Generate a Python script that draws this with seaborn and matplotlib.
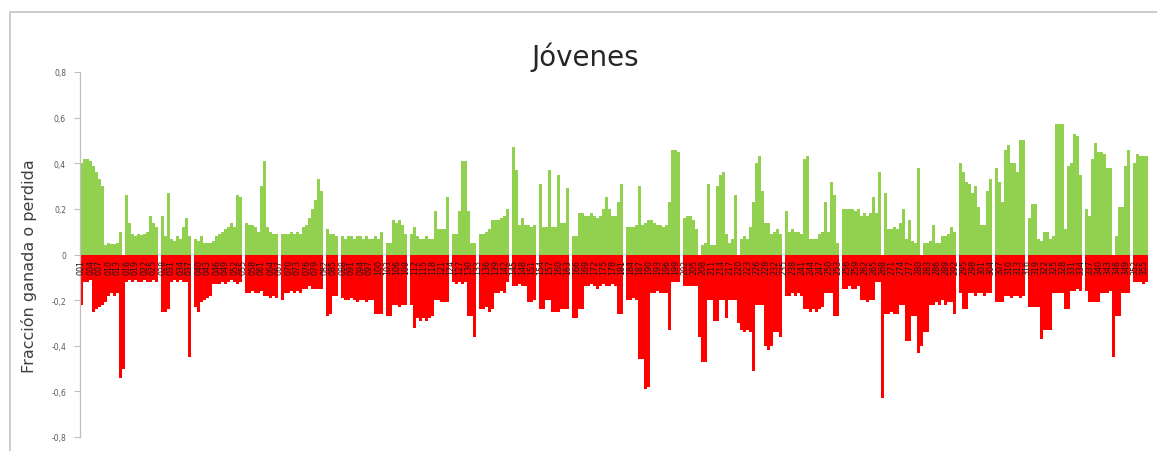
import matplotlib
matplotlib.use("Agg")
import matplotlib.pyplot as plt
from matplotlib.patches import Rectangle
from matplotlib.ticker import FuncFormatter
import seaborn as sns
import pandas as pd

# Fraction gained (positive) and lost (negative) per category
gains = [
    0.40, 0.42, 0.42, 0.41, 0.39, 0.36, 0.33, 0.30, 0.04, 0.05,
    0.045, 0.045, 0.05, 0.10, 0, 0.26, 0.14, 0.09, 0.08, 0.09,
    0.085, 0.09, 0.10, 0.17, 0.14, 0.12, 0, 0.17, 0.08, 0.27,
    0.07, 0.06, 0.08, 0.07, 0.12, 0.16, 0.08, 0, 0.07, 0.06,
    0.08, 0.05, 0.05, 0.05, 0.06, 0.08, 0.09, 0.10, 0.11, 0.12,
    0.14, 0.12, 0.26, 0.25, 0, 0.14, 0.13, 0.13, 0.12, 0.10,
    0.30, 0.41, 0.12, 0.10, 0.09, 0.09, 0, 0.09, 0.09, 0.09,
    0.10, 0.09, 0.10, 0.09, 0.12, 0.13, 0.16, 0.20, 0.24, 0.33,
    0.28, 0, 0.11, 0.09, 0.09, 0.08, 0, 0.08, 0.07, 0.08,
    0.08, 0.07, 0.08, 0.08, 0.07, 0.08, 0.07, 0.07, 0.08, 0.07,
    0.10, 0, 0.05, 0.05, 0.15, 0.14, 0.15, 0.13, 0.09, 0,
    0.09, 0.12, 0.08, 0.07, 0.07, 0.08, 0.07, 0.07, 0.19, 0.11,
    0.11, 0.11, 0.25, 0, 0.09, 0.09, 0.19, 0.41, 0.41, 0.19,
    0.05, 0.05, 0, 0.09, 0.09, 0.10, 0.11, 0.15, 0.15, 0.15,
    0.16, 0.17, 0.20, 0, 0.47, 0.37, 0.13, 0.16, 0.13, 0.13,
    0.12, 0.13, 0, 0.31, 0.12, 0.12, 0.37, 0.12, 0.12, 0.35,
    0.14, 0.14, 0.29, 0, 0.08, 0.08, 0.18, 0.18, 0.17, 0.17,
    0.18, 0.17, 0.16, 0.17, 0.20, 0.25, 0.20, 0.17, 0.17, 0.23,
    0.31, 0, 0.12, 0.12, 0.12, 0.13, 0.30, 0.13, 0.14, 0.15,
    0.15, 0.14, 0.13, 0.13, 0.12, 0.13, 0.23, 0.46, 0.46, 0.45,
    0, 0.16, 0.17, 0.17, 0.15, 0.11, 0, 0.04, 0.05, 0.31,
    0.04, 0.04, 0.30, 0.35, 0.36, 0.09, 0.05, 0.07, 0.26, 0,
    0.07, 0.08, 0.07, 0.12, 0.23, 0.40, 0.43, 0.28, 0.14, 0.14,
    0.09, 0.10, 0.11, 0.09, 0, 0.19, 0.10, 0.11, 0.10, 0.10,
    0.09, 0.42, 0.43, 0.07, 0.07, 0.07, 0.09, 0.10, 0.23, 0.10,
    0.32, 0.26, 0.05, 0, 0.20, 0.20, 0.20, 0.20, 0.19, 0.20,
    0.17, 0.18, 0.17, 0.18, 0.25, 0.18, 0.36, 0, 0.27, 0.11,
    0.11, 0.12, 0.11, 0.14, 0.20, 0.07, 0.15, 0.06, 0.05, 0.38,
    0, 0.05, 0.05, 0.06, 0.13, 0.05, 0.05, 0.08, 0.08, 0.09,
    0.12, 0.10, 0, 0.40, 0.36, 0.32, 0.31, 0.27, 0.30, 0.21,
    0.13, 0.13, 0.28, 0.33, 0, 0.38, 0.32, 0.23, 0.46, 0.48,
    0.40, 0.40, 0.36, 0.50, 0.50, 0, 0.16, 0.22, 0.22, 0.07,
    0.06, 0.10, 0.10, 0.07, 0.08, 0.57, 0.57, 0.57, 0.11, 0.39,
    0.40, 0.53, 0.52, 0.35, 0, 0.20, 0.17, 0.42, 0.49, 0.45,
    0.45, 0.44, 0.38, 0.38, 0, 0.08, 0.21, 0.21, 0.39, 0.46,
    0, 0.40, 0.44, 0.43, 0.43, 0.43,
]

losses = [
    -0.22, -0.12, -0.12, -0.11, -0.25, -0.24, -0.23, -0.22, -0.21, -0.18,
    -0.17, -0.18, -0.17, -0.54, -0.50, -0.12, -0.11, -0.12, -0.11, -0.12,
    -0.12, -0.11, -0.12, -0.12, -0.11, -0.12, 0, -0.25, -0.25, -0.24,
    -0.12, -0.11, -0.12, -0.11, -0.12, -0.12, -0.45, 0, -0.23, -0.25,
    -0.21, -0.20, -0.19, -0.18, -0.13, -0.13, -0.13, -0.12, -0.13, -0.12,
    -0.11, -0.12, -0.13, -0.12, 0, -0.17, -0.17, -0.16, -0.17, -0.17,
    -0.16, -0.18, -0.18, -0.19, -0.18, -0.19, 0, -0.20, -0.17, -0.17,
    -0.16, -0.17, -0.16, -0.17, -0.15, -0.15, -0.14, -0.15, -0.15, -0.15,
    -0.15, 0, -0.27, -0.26, -0.18, -0.18, 0, -0.19, -0.20, -0.20,
    -0.19, -0.20, -0.21, -0.20, -0.20, -0.21, -0.20, -0.20, -0.26, -0.26,
    -0.26, 0, -0.27, -0.27, -0.22, -0.22, -0.23, -0.22, -0.22, 0,
    -0.22, -0.32, -0.28, -0.29, -0.28, -0.29, -0.28, -0.27, -0.20, -0.20,
    -0.21, -0.21, -0.21, 0, -0.12, -0.13, -0.12, -0.13, -0.12, -0.27,
    -0.27, -0.36, 0, -0.24, -0.24, -0.23, -0.25, -0.24, -0.17, -0.17,
    -0.16, -0.17, -0.12, 0, -0.14, -0.14, -0.13, -0.14, -0.14, -0.21,
    -0.21, -0.20, 0, -0.24, -0.24, -0.20, -0.20, -0.25, -0.25, -0.25,
    -0.24, -0.24, -0.24, 0, -0.28, -0.28, -0.24, -0.24, -0.14, -0.14,
    -0.13, -0.14, -0.15, -0.14, -0.13, -0.14, -0.14, -0.13, -0.14, -0.26,
    -0.26, 0, -0.20, -0.20, -0.19, -0.20, -0.46, -0.46, -0.59, -0.58,
    -0.17, -0.17, -0.16, -0.17, -0.17, -0.17, -0.33, -0.12, -0.12, -0.12,
    0, -0.14, -0.14, -0.14, -0.14, -0.14, -0.36, -0.47, -0.47, -0.20,
    -0.20, -0.29, -0.29, -0.20, -0.20, -0.28, -0.20, -0.20, -0.20, -0.30,
    -0.33, -0.34, -0.33, -0.34, -0.51, -0.22, -0.22, -0.22, -0.40, -0.42,
    -0.40, -0.34, -0.34, -0.36, 0, -0.18, -0.18, -0.17, -0.18, -0.17,
    -0.18, -0.24, -0.24, -0.25, -0.24, -0.25, -0.24, -0.23, -0.17, -0.17,
    -0.17, -0.27, -0.27, 0, -0.15, -0.15, -0.14, -0.15, -0.15, -0.14,
    -0.20, -0.20, -0.21, -0.20, -0.20, -0.12, -0.12, -0.63, -0.26, -0.26,
    -0.25, -0.26, -0.26, -0.22, -0.22, -0.38, -0.38, -0.27, -0.27, -0.43,
    -0.40, -0.34, -0.34, -0.22, -0.22, -0.21, -0.22, -0.20, -0.22, -0.21,
    -0.21, -0.26, 0, -0.17, -0.24, -0.24, -0.17, -0.17, -0.18, -0.17,
    -0.17, -0.18, -0.17, -0.17, 0, -0.21, -0.21, -0.21, -0.18, -0.18,
    -0.19, -0.18, -0.18, -0.19, -0.18, 0, -0.23, -0.23, -0.23, -0.23,
    -0.37, -0.33, -0.33, -0.33, -0.17, -0.17, -0.17, -0.17, -0.24, -0.24,
    -0.16, -0.16, -0.15, -0.16, 0, -0.16, -0.21, -0.21, -0.21, -0.21,
    -0.17, -0.17, -0.17, -0.16, -0.45, -0.27, -0.27, -0.17, -0.17, -0.17,
    0, -0.12, -0.12, -0.12, -0.13, -0.12,
]

categories = [f"{k + 1:03d}" for k in range(len(gains))]

y_ticks = [-0.8, -0.6, -0.4, -0.2, 0.0, 0.2, 0.4, 0.6, 0.8]

title = "Jóvenes"
y_label = "Fracción ganada o perdida"

df = pd.DataFrame({"categoria": categories, "ganada": gains, "perdida": losses})

sns.set_theme(style="white")
plt.rcParams["font.family"] = ["DejaVu Sans"]

W, H = 1157, 452
fig = plt.figure(figsize=(W / 100, H / 100), dpi=100)
fig.patch.set_facecolor("white")

ax = fig.add_axes([80 / W, 1 - 438 / H, 1068 / W, 365 / H])

common = dict(x="categoria", order=categories, width=1.0, saturation=1,
              linewidth=0, errorbar=None, ax=ax)
sns.barplot(data=df, y="ganada", color="#92D050", **common)
sns.barplot(data=df, y="perdida", color="#FF0000", **common)

ax.set_axisbelow(False)
ax.set_ylim(-0.8, 0.8)
ax.set_xlim(-0.5, len(categories) - 0.5)
ax.set_yticks(y_ticks)
ax.yaxis.set_major_formatter(
    FuncFormatter(lambda v, _: "0" if abs(v) < 1e-9 else f"{v:.1f}".replace(".", ",")))
ax.set_xlabel("")
ax.set_ylabel("")

# Category labels sit along the zero line
ax.spines["bottom"].set_position(("data", 0))
ax.spines["bottom"].set_color("none")
ax.spines["top"].set_visible(False)
ax.spines["right"].set_visible(False)
ax.spines["left"].set_color("#bfbfbf")
ax.spines["left"].set_linewidth(0.9)

step = 3
ax.set_xticks(range(0, len(categories), step))
ax.set_xticklabels(categories[::step])
ax.tick_params(axis="x", length=0, pad=3, labelsize=5.8, labelrotation=90,
               labelcolor="#1a1a1a")
ax.tick_params(axis="y", left=True, length=4, width=0.8, color="#bfbfbf",
               labelsize=5.5, labelcolor="#595959", pad=6)

# Chart area border
fig.patches.append(Rectangle((10 / W, -0.1), 1.2, 1 - 13 / H + 0.1,
                             transform=fig.transFigure, fill=False,
                             edgecolor="#c8c8c8", linewidth=1.3))

fig.text(585 / W, 1 - 57 / H, title, ha="center", va="center",
         fontsize=20, color="#262626")
fig.text(29 / W, 1 - 266 / H, y_label, rotation=90, ha="center", va="center",
         fontsize=11.5, color="#404040")

fig.savefig("out.png", dpi=100)
